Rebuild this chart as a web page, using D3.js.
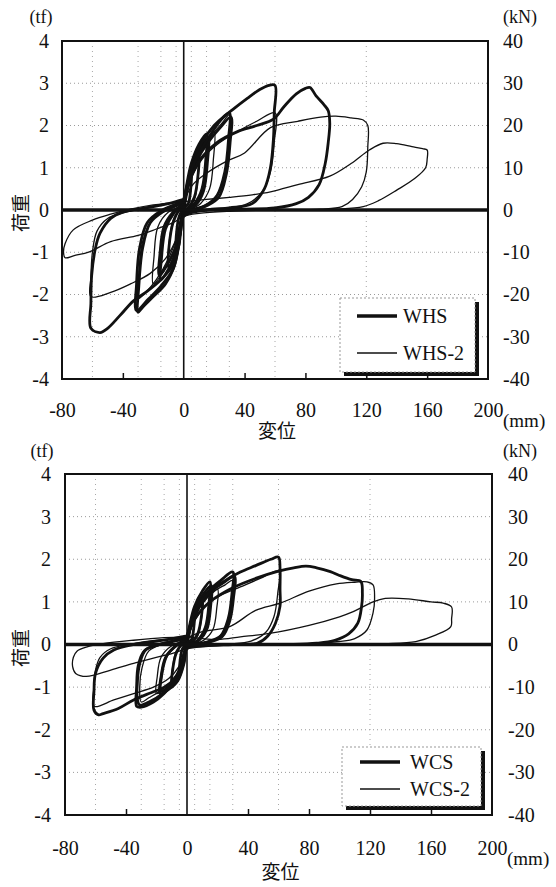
<!DOCTYPE html>
<html>
<head>
<meta charset="utf-8">
<script src="https://cdn.jsdelivr.net/npm/d3@7"></script>
<style>
body{margin:0;background:#fff}
text{font-family:"Liberation Serif","Times New Roman",serif;fill:#111}
.cjk{font-family:"Noto Sans CJK JP",sans-serif}
</style>
</head>
<body>
<div id="main-container"></div>
<script>
// tick labels
const xTicks = [-80,-40,0,40,80,120,160,200]
const xInnerTicks = [-40,40,80,120,160]
const tfTicks = [4,3,2,1,0,-1,-2,-3,-4]
const kNTicks = [40,30,20,10,0,-10,-20,-30,-40]
const gridY = [3,2,1,-1,-2,-3]
const gridX = [-60,-30,-15,-5,5,15,30,60,120]
const topNames = ['WHS','WHS-2']
const bottomNames = ['WCS','WCS-2']

// hysteresis cycles, [displacement mm, load tf]
const whs = [
  [[0,0],[2,0.4],[4,0.8],[5,0.95],[4.6,0.5],[3,0.15],[0,0.02],[-2,-0.4],[-4,-0.8],[-5,-0.95],[-4.6,-0.5],[-3,-0.15],[0,0.05]],
  [[0,0.05],[2,0.5],[5,1.0],[8,1.3],[10,1.4],[9.6,0.9],[7,0.3],[3,0.05],[0,-0.05],[-2,-0.5],[-5,-0.95],[-8,-1.25],[-10,-1.35],[-9.6,-0.85],[-7,-0.3],[-3,0],[0,0.1]],
  [[0,0.1],[2,0.6],[5,1.1],[10,1.55],[15,1.8],[14.5,1.2],[12,0.5],[7,0.15],[0,-0.05],[-2,-0.5],[-5,-1.0],[-10,-1.4],[-15,-1.65],[-14.5,-1.1],[-12,-0.45],[-6,-0.05],[0,0.15]],
  [[0,0.15],[3,0.65],[6,1.05],[11,1.45],[16,1.7],[15.5,1.1],[13,0.45],[8,0.12],[0,-0.08],[-3,-0.55],[-6,-0.95],[-11,-1.3],[-16,-1.55],[-15.5,-1.0],[-13,-0.4],[-7,-0.05],[0,0.15]],
  [[0,0.15],[3,0.7],[7,1.2],[12,1.6],[20,2.0],[26,2.2],[30,2.3],[29.5,1.7],[27,0.9],[22,0.35],[14,0.1],[5,0],[0,-0.1],[-3,-0.7],[-6,-1.3],[-12,-1.75],[-20,-2.05],[-27,-2.3],[-30,-2.42],[-29.5,-1.8],[-27,-0.9],[-22,-0.3],[-14,-0.05],[-5,0.1],[0,0.2]],
  [[0,0.2],[4,0.75],[9,1.2],[16,1.6],[24,1.95],[31,2.2],[30.5,1.6],[28,0.85],[23,0.3],[14,0.08],[0,-0.12],[-3,-0.8],[-7,-1.4],[-15,-1.8],[-23,-2.1],[-31,-2.38],[-31,-1.75],[-29,-0.9],[-24,-0.3],[-15,-0.02],[0,0.2]],
  [[0,0.2],[3,0.7],[8,1.2],[17,1.75],[25,2.15],[33,2.4],[42,2.65],[50,2.85],[56,2.95],[60,2.95],[59.5,2.3],[59,1.7],[57,1.0],[53,0.5],[45,0.15],[30,0.05],[15,0],[0,-0.15],[-3,-0.8],[-7,-1.3],[-15,-1.65],[-25,-1.95],[-33,-2.15],[-42,-2.5],[-50,-2.8],[-55,-2.9],[-61,-2.8],[-61,-2.2],[-60.5,-1.55],[-58,-0.9],[-55,-0.55],[-48,-0.2],[-40,-0.05],[-25,0.05],[-10,0.15],[0,0.25]],
  [[0,0.25],[5,0.8],[12,1.25],[22,1.6],[35,1.85],[48,2.0],[59,2.15],[66,2.45],[74,2.75],[80,2.88],[83,2.9],[87,2.7],[92,2.5],[95,2.35],[96,2.05],[95,1.6],[93,1.1],[89,0.6],[82,0.3],[74,0.15],[60,0.05],[40,0.02],[20,0]]
]
const whs2 = [
  [[0,0],[3,0.55],[6,0.95],[10,1.3],[9.5,0.8],[7,0.25],[3,0.05],[0,-0.05],[-3,-0.55],[-6,-0.9],[-10,-1.2],[-9.5,-0.75],[-7,-0.25],[-3,0],[0,0.05]],
  [[0,0.05],[3,0.6],[7,1.1],[13,1.5],[20,1.85],[19.5,1.2],[17,0.5],[11,0.15],[4,0],[0,-0.1],[-3,-0.6],[-7,-1.05],[-13,-1.45],[-20,-1.75],[-19.5,-1.1],[-17,-0.4],[-10,-0.05],[0,0.1]],
  [[0,0.1],[4,0.7],[10,1.25],[18,1.75],[25,2.05],[30,2.25],[29.5,1.6],[27,0.8],[21,0.3],[12,0.08],[0,-0.05],[-4,-0.6],[-10,-1.15],[-18,-1.65],[-25,-1.95],[-30,-2.1],[-29.5,-1.5],[-27,-0.75],[-20,-0.2],[-10,0.05],[0,0.15]],
  [[0,0.15],[5,0.75],[12,1.2],[22,1.55],[35,1.85],[48,2.1],[60,2.3],[59.5,1.6],[57,0.9],[52,0.45],[42,0.15],[25,0.02],[0,-0.12],[-5,-0.7],[-12,-1.15],[-22,-1.5],[-35,-1.75],[-48,-1.95],[-61,-2.05],[-61,-1.6],[-60,-1.0],[-57,-0.5],[-50,-0.2],[-38,-0.05],[-20,0.1],[0,0.2]],
  [[0,0.2],[6,0.6],[15,0.87],[28,1.15],[40,1.35],[57,1.95],[75,2.1],[90,2.2],[100,2.22],[110,2.18],[118,2.13],[121,2.0],[121,1.5],[120,0.9],[117,0.55],[111,0.25],[104,0.08],[90,0.02],[60,0],[30,-0.03],[10,-0.08],[0,-0.15],[-7,-0.3],[-18,-0.45],[-30,-0.6],[-48,-0.75],[-62,-0.99],[-72,-1.08],[-78,-1.13],[-79,-1.0],[-78,-0.8],[-72.6,-0.47],[-60,-0.24],[-48,-0.1],[-35,0.02],[-20,0.12],[0,0.2]],
  [[0,0.2],[15,0.25],[30,0.3],[45,0.36],[57,0.43],[75,0.6],[96,0.8],[110,1.1],[122,1.42],[131,1.58],[140,1.57],[150,1.5],[157,1.45],[160,1.42],[160,1.2],[159,1.0],[152,0.75],[140,0.47],[128,0.22],[118,0.08],[100,0.02],[80,0]]
]
const wcs = [
  [[0,0],[2,0.35],[4,0.65],[5,0.8],[4.6,0.45],[3,0.12],[0,0],[-2,-0.3],[-4,-0.55],[-5,-0.7],[-4.6,-0.4],[-3,-0.1],[0,0.05]],
  [[0,0.05],[2,0.4],[5,0.8],[8,1.0],[10,1.1],[9.6,0.7],[7,0.25],[3,0.05],[0,-0.05],[-2,-0.4],[-5,-0.75],[-8,-0.92],[-10,-1.0],[-9.6,-0.65],[-7,-0.2],[-3,0.02],[0,0.1]],
  [[0,0.1],[2,0.5],[5,0.9],[10,1.25],[15,1.47],[14.5,1.0],[12,0.4],[7,0.1],[0,-0.05],[-2,-0.45],[-6,-0.85],[-12,-1.05],[-17.7,-1.15],[-17,-0.75],[-14,-0.3],[-7,-0.02],[0,0.12]],
  [[0,0.12],[3,0.55],[6,0.9],[11,1.2],[16,1.38],[15.5,0.9],[13,0.35],[8,0.1],[0,-0.06],[-3,-0.5],[-7,-0.85],[-12,-1.0],[-17,-1.1],[-16.5,-0.7],[-13,-0.25],[-6,0],[0,0.12]],
  [[0,0.12],[3,0.5],[7,0.9],[14,1.25],[22,1.5],[30,1.7],[29.5,1.2],[27,0.6],[22,0.2],[12,0.05],[0,-0.05],[-3,-0.45],[-8,-0.85],[-15,-1.15],[-22,-1.35],[-30,-1.47],[-33,-1.45],[-33,-1.0],[-32,-0.5],[-28,-0.15],[-18,0.0],[-5,0.1],[0,0.15]],
  [[0,0.15],[4,0.55],[9,0.95],[16,1.25],[24,1.45],[31,1.6],[30.5,1.1],[28,0.55],[23,0.18],[13,0.04],[0,-0.07],[-4,-0.5],[-9,-0.9],[-16,-1.15],[-24,-1.33],[-31,-1.42],[-32.5,-1.3],[-32.5,-0.85],[-31,-0.45],[-27,-0.12],[-16,0.02],[0,0.17]],
  [[0,0.17],[3,0.55],[8,0.95],[15,1.25],[25,1.5],[35,1.7],[45,1.85],[55,2.0],[60,2.05],[61,1.8],[61,1.3],[61,0.9],[58,0.5],[53,0.2],[46,0.03],[30,0],[10,-0.03],[0,-0.1],[-3,-0.45],[-8,-0.8],[-15,-1.0],[-25,-1.15],[-35,-1.3],[-45,-1.5],[-55,-1.62],[-58,-1.65],[-61,-1.54],[-61,-1.1],[-60,-0.68],[-55,-0.32],[-48,-0.13],[-35,0],[-15,0.1],[0,0.2]],
  [[0,0.2],[5,0.6],[15,1.0],[30,1.33],[45,1.55],[60,1.72],[70,1.8],[78,1.84],[85,1.8],[94,1.71],[100,1.62],[108,1.52],[114,1.48],[115,1.2],[114.5,0.9],[112,0.5],[106,0.25],[97,0.1],[85,0.03],[70,0]]
]
const wcs2 = [
  [[0,0],[3,0.45],[6,0.75],[10,1.0],[9.5,0.6],[7,0.2],[3,0.03],[0,-0.05],[-3,-0.4],[-6,-0.7],[-10,-0.9],[-9.5,-0.55],[-7,-0.15],[-3,0.02],[0,0.05]],
  [[0,0.05],[3,0.5],[7,0.85],[13,1.1],[20,1.3],[19.5,0.85],[17,0.35],[11,0.1],[4,0],[0,-0.08],[-3,-0.45],[-7,-0.8],[-13,-1.0],[-20,-1.15],[-19.5,-0.75],[-17,-0.3],[-10,-0.03],[0,0.1]],
  [[0,0.1],[4,0.55],[10,0.95],[18,1.25],[25,1.4],[30,1.5],[29.5,1.05],[27,0.5],[21,0.18],[12,0.05],[0,-0.05],[-4,-0.5],[-10,-0.85],[-18,-1.1],[-25,-1.25],[-30,-1.35],[-31,-1.0],[-29.5,-0.55],[-25,-0.15],[-15,0.02],[0,0.12]],
  [[0,0.12],[5,0.55],[12,0.9],[22,1.15],[35,1.35],[48,1.55],[60,1.72],[59.5,1.2],[57,0.65],[52,0.3],[42,0.08],[25,0],[0,-0.1],[-5,-0.5],[-12,-0.8],[-22,-1.0],[-35,-1.15],[-48,-1.3],[-61,-1.45],[-61,-1.0],[-60,-0.6],[-57,-0.3],[-50,-0.1],[-38,0],[-20,0.1],[0,0.15]],
  [[0,0.15],[10,0.3],[28,0.42],[45,0.8],[61,0.97],[80,1.25],[98,1.42],[110,1.46],[118,1.47],[122,1.4],[123,1.1],[122,0.74],[118,0.34],[110,0.14],[100,0.07],[80,0.02],[50,0],[25,-0.02],[0,-0.1],[-9,-0.2],[-22,-0.32],[-35,-0.44],[-50,-0.6],[-66,-0.75],[-73,-0.68],[-75,-0.52],[-74.5,-0.3],[-72,-0.15],[-65,-0.05],[-55,0.02],[-35,0.1],[-15,0.16],[0,0.18]],
  [[0,0.18],[20,0.12],[35,0.18],[54,0.26],[80,0.45],[100,0.65],[109,0.77],[122,1.0],[130,1.08],[145,1.07],[160,1.0],[168,0.97],[173.5,0.88],[173.5,0.6],[173,0.42],[163,0.22],[150,0.07],[130,0.02],[110,0]]
]

const width = 556
const height = 887
const serif = '"Liberation Serif", "Times New Roman", serif'
const svg = d3.select('#main-container').append('svg').attr('width', width).attr('height', height)

const panels = [
  {id:'top', left:62, right:488, top:41, bottom:379, tfX:41, unitY:17, kNX:503, tickL:49, tickR:503, xLabY:410, mmX:503, mmY:420, titleY:431, yTitleY:213,
   thick:whs, thin:whs2, names:topNames,
   leg:{x:340, y:298, w:135, h:74, l1:357, l2:397, tx:403, rows:[316,353]}},
  {id:'bottom', left:65, right:492, top:474, bottom:815, tfX:42, unitY:451, kNX:503, tickL:51, tickR:508, xLabY:848, mmX:507, mmY:858, titleY:872, yTitleY:648,
   thick:wcs, thin:wcs2, names:bottomNames,
   leg:{x:342, y:747, w:139, h:59, l1:360, l2:400, tx:410, rows:[762,789]}}
]

panels.forEach((p) => {
  const x = d3.scaleLinear().domain([-80,200]).range([p.left,p.right])
  const y = d3.scaleLinear().domain([-4,4]).range([p.bottom,p.top])
  const yk = d3.scaleLinear().domain([-40,40]).range([p.bottom,p.top])
  const g = svg.append('g').attr('id', p.id)

  g.append('clipPath').attr('id', 'clip-' + p.id).append('rect')
    .attr('x', p.left).attr('y', p.top).attr('width', p.right - p.left).attr('height', p.bottom - p.top)

  // dotted grid
  g.selectAll('.gy').data(gridY).enter().append('line').attr('class','gy')
    .attr('x1', p.left).attr('x2', p.right).attr('y1', d => y(d)).attr('y2', d => y(d))
    .attr('stroke', '#9a9a9a').attr('stroke-width', 1).attr('stroke-dasharray', '1,3')
  g.selectAll('.gx').data(gridX).enter().append('line').attr('class','gx')
    .attr('y1', p.top).attr('y2', p.bottom).attr('x1', d => x(d)).attr('x2', d => x(d))
    .attr('stroke', '#a8a8a8').attr('stroke-width', 1).attr('stroke-dasharray', '1,4')

  // x = 0 line
  g.append('line').attr('x1', x(0)).attr('x2', x(0)).attr('y1', p.top).attr('y2', p.bottom)
    .attr('stroke', '#111').attr('stroke-width', 1.6)

  const line = d3.line().x(d => x(d[0])).y(d => y(d[1])).curve(d3.curveCatmullRom.alpha(0.5))
  const plot = g.append('g').attr('clip-path', `url(#clip-${p.id})`)
  plot.selectAll('.thin').data(p.thin).enter().append('path').attr('class','thin')
    .attr('d', line).attr('fill', 'none').attr('stroke', '#111').attr('stroke-width', 1.3).attr('stroke-linejoin','round')
  plot.selectAll('.thick').data(p.thick).enter().append('path').attr('class','thick')
    .attr('d', line).attr('fill', 'none').attr('stroke', '#111').attr('stroke-width', 2.8).attr('stroke-linejoin','round')

  // thick zero line
  g.append('line').attr('x1', p.left).attr('x2', p.right).attr('y1', y(0)).attr('y2', y(0))
    .attr('stroke', '#111').attr('stroke-width', 3.5)

  // frame
  g.append('rect').attr('x', p.left).attr('y', p.top).attr('width', p.right - p.left).attr('height', p.bottom - p.top)
    .attr('fill', 'none').attr('stroke', '#111').attr('stroke-width', 2)

  // inner ticks on the bottom edge
  g.append('g').attr('transform', `translate(0,${p.bottom})`)
    .call(d3.axisBottom(x).tickValues(xInnerTicks).tickSize(-6).tickFormat(''))
    .call(a => a.select('.domain').remove())
    .selectAll('line').attr('stroke', '#111').attr('stroke-width', 1.5)

  // tick labels
  const lAx = g.append('g').attr('transform', `translate(${p.tickL},0)`)
    .call(d3.axisLeft(y).tickValues(tfTicks).tickSize(0).tickPadding(0).tickFormat(d => String(d)))
  const rAx = g.append('g').attr('transform', `translate(${p.tickR},0)`)
    .call(d3.axisRight(yk).tickValues(kNTicks).tickSize(0).tickPadding(0).tickFormat(d => String(d)))
  const bAx = g.append('g').attr('transform', `translate(0,${p.xLabY})`)
    .call(d3.axisBottom(x).tickValues(xTicks).tickSize(0).tickPadding(0).tickFormat(d => String(d)))
  ;[lAx, rAx, bAx].forEach(a => {
    a.attr('font-family', null).attr('font-size', null)
    a.select('.domain').remove()
    a.selectAll('text').style('font-family', serif).style('font-size', '20px').attr('fill', '#111')
  })
  bAx.selectAll('text').attr('y', 0).attr('dy', '0.35em')

  // units and titles
  g.append('text').text('(tf)').attr('x', p.tfX).attr('y', p.unitY).attr('dy','0.35em').attr('text-anchor','middle').style('font-size', '18px')
  g.append('text').text('(kN)').attr('x', p.kNX).attr('y', p.unitY).attr('dy','0.35em').style('font-size', '18px')
  g.append('text').text('(mm)').attr('x', p.mmX).attr('y', p.mmY).attr('dy','0.35em').style('font-size', '19px')
  g.append('text').text('変位').attr('class','cjk').attr('x', (p.left + p.right) / 2 + 2).attr('y', p.titleY).attr('dy','0.35em')
    .attr('text-anchor','middle').style('font-size', '19px')
  g.append('text').text('荷重').attr('class','cjk').attr('transform', `translate(21,${p.yTitleY}) rotate(-90)`).attr('dy','0.35em')
    .attr('text-anchor','middle').style('font-size', '19px')

  // legend with drop shadow
  const L = p.leg
  g.append('rect').attr('x', L.x + 4).attr('y', L.y + 4).attr('width', L.w).attr('height', L.h).attr('fill', '#111')
  g.append('rect').attr('x', L.x).attr('y', L.y).attr('width', L.w).attr('height', L.h).attr('fill', '#fff')
    .attr('stroke', '#999').attr('stroke-width', 1).attr('stroke-dasharray', '2,2')
  p.names.forEach((name, i) => {
    g.append('line').attr('x1', L.l1).attr('x2', L.l2).attr('y1', L.rows[i]).attr('y2', L.rows[i])
      .attr('stroke', '#111').attr('stroke-width', i === 0 ? 3.5 : 1.5)
    g.append('text').text(name).attr('x', L.tx).attr('y', L.rows[i]).attr('dy','0.35em').style('font-size', '20px')
  })
})
</script>
</body>
</html>
